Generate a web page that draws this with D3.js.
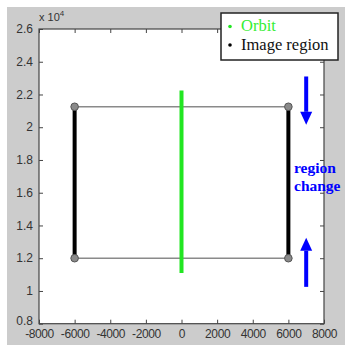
<!DOCTYPE html>
<html>
<head>
<meta charset="utf-8">
<script src="https://cdn.jsdelivr.net/npm/d3@7"></script>
<style>
  html, body { margin: 0; padding: 0; background: #fff; }
  svg { display: block; }
</style>
</head>
<body>
<svg id="chart" width="345" height="345"></svg>
<script>
// Axis ticks
const xTicks = [-8000, -6000, -4000, -2000, 0, 2000, 4000, 6000, 8000];
const yTicks = [0.8, 1, 1.2, 1.4, 1.6, 1.8, 2, 2.2, 2.4, 2.6];

// Orbit track (x, y in units of 1e4)
const orbitX = [0, 0];
const orbitY = [1.11, 2.225];

// Image region corners
const regionX = [-6000, 6000];
const regionY = [1.2, 2.125];

// Region-change annotation (arrows in data units)
const arrowDown = { x: 7000, y0: 2.31, y1: 2.015 };
const arrowUp = { x: 7000, y0: 1.025, y1: 1.325 };
const noteLines = ["region", "change"];

const svg = d3.select("#chart");
const W = 345, H = 345;
const m = { left: 39, top: 29, right: 324, bottom: 323.7 };

// Figure background
svg.append("rect").attr("x", 7).attr("y", 7).attr("width", W - 7).attr("height", H - 7)
  .attr("fill", "#cccccc");

const x = d3.scaleLinear().domain([-8000, 8000]).range([m.left, m.right]);
const y = d3.scaleLinear().domain([0.8, 2.6]).range([m.bottom, m.top]);

// Plot area
svg.append("rect").attr("x", m.left).attr("y", m.top)
  .attr("width", m.right - m.left).attr("height", m.bottom - m.top)
  .attr("fill", "#fff");

const axisColor = "#444";
const tickFont = "Liberation Sans, Arial, sans-serif";

function styleAxis(g) {
  g.select(".domain").remove();
  g.selectAll(".tick line").attr("stroke", axisColor).attr("stroke-width", 1);
  g.selectAll(".tick text").attr("fill", "#333").attr("font-family", tickFont).attr("font-size", 12);
}

// Bottom axis (ticks inward)
svg.append("g").attr("transform", `translate(0,${m.bottom})`)
  .call(d3.axisBottom(x).tickValues(xTicks).tickSizeInner(-4).tickSizeOuter(0).tickFormat(d => String(d)))
  .call(styleAxis)
  .call(g => g.selectAll(".tick text").attr("dy", "0.72em").attr("y", 5.5).attr("letter-spacing", -0.4));
// Top axis ticks
svg.append("g").attr("transform", `translate(0,${m.top})`)
  .call(d3.axisTop(x).tickValues(xTicks).tickSizeInner(-4).tickSizeOuter(0).tickFormat(""))
  .call(styleAxis);
// Left axis (lowest label lifted slightly so it clears the x labels)
svg.append("g").attr("transform", `translate(${m.left},0)`)
  .call(d3.axisLeft(y).tickValues(yTicks).tickSizeInner(-4).tickSizeOuter(0).tickFormat(d => String(+d.toFixed(1))))
  .call(styleAxis)
  .call(g => g.selectAll(".tick text").attr("x", -6).attr("dy", d => d === 0.8 ? "0.05em" : "0.3em"));
// Right axis ticks
svg.append("g").attr("transform", `translate(${m.right},0)`)
  .call(d3.axisRight(y).tickValues(yTicks).tickSizeInner(-4).tickSizeOuter(0).tickFormat(""))
  .call(styleAxis);

// Exponent label
const expo = svg.append("text").attr("x", m.left).attr("y", 21)
  .attr("font-family", tickFont).attr("font-size", 11).attr("fill", "#333");
expo.append("tspan").text("x 10");
expo.append("tspan").attr("font-size", 8).attr("dy", -5).text("4");

// Image region: horizontal edges (thin gray)
const g = svg.append("g");
regionY.forEach(v => {
  g.append("line").attr("x1", x(regionX[0])).attr("x2", x(regionX[1]))
    .attr("y1", y(v)).attr("y2", y(v))
    .attr("stroke", "#8a8a8a").attr("stroke-width", 1.6);
});
// Image region: vertical edges (thick black)
regionX.forEach(v => {
  g.append("line").attr("x1", x(v)).attr("x2", x(v))
    .attr("y1", y(regionY[0])).attr("y2", y(regionY[1]))
    .attr("stroke", "#000").attr("stroke-width", 4);
});
// Corner markers
regionX.forEach(xv => regionY.forEach(yv => {
  g.append("circle").attr("cx", x(xv)).attr("cy", y(yv)).attr("r", 3.8)
    .attr("fill", "#8a8a8a").attr("stroke", "#555").attr("stroke-width", 1);
}));

// Orbit
g.append("line").attr("x1", x(orbitX[0])).attr("x2", x(orbitX[1]))
  .attr("y1", y(orbitY[0])).attr("y2", y(orbitY[1]))
  .attr("stroke", "#22e622").attr("stroke-width", 4);

// Plot frame
svg.append("rect").attr("x", m.left).attr("y", m.top)
  .attr("width", m.right - m.left).attr("height", m.bottom - m.top)
  .attr("fill", "none").attr("stroke", axisColor).attr("stroke-width", 1.2);

// Arrows
function arrow(a) {
  const px = x(a.x), p0 = y(a.y0), p1 = y(a.y1);
  const dir = p1 > p0 ? 1 : -1;
  const headLen = 13, headHalf = 6;
  svg.append("line").attr("x1", px).attr("x2", px).attr("y1", p0).attr("y2", p1 - dir * headLen)
    .attr("stroke", "#0000ff").attr("stroke-width", 4);
  svg.append("path")
    .attr("d", `M${px - headHalf},${p1 - dir * headLen}L${px + headHalf},${p1 - dir * headLen}L${px},${p1}Z`)
    .attr("fill", "#0000ff");
}
arrow(arrowDown);
arrow(arrowUp);

// Annotation text
noteLines.forEach((t, i) => {
  svg.append("text").attr("x", 294).attr("y", 173 + i * 18)
    .attr("font-family", "Liberation Serif, Times New Roman, serif").attr("font-weight", "bold")
    .attr("font-size", 15.5).attr("fill", "#0000ff").text(t);
});

// Legend
const lg = svg.append("g");
lg.append("rect").attr("x", 221).attr("y", 13).attr("width", 117).attr("height", 47)
  .attr("fill", "#fff").attr("stroke", "#222").attr("stroke-width", 1.5);
const legendItems = [
  { label: "Orbit", color: "#22e622", text: "#33ee33" },
  { label: "Image region", color: "#000", text: "#111" }
];
legendItems.forEach((d, i) => {
  const cy = 31 + i * 18.5;
  lg.append("circle").attr("cx", 230).attr("cy", cy - 4.5).attr("r", 1.8).attr("fill", d.color);
  lg.append("text").attr("x", 241).attr("y", cy)
    .attr("font-family", "Liberation Serif, Times New Roman, serif")
    .attr("font-size", 16.5).attr("fill", d.text).text(d.label);
});
</script>
</body>
</html>
